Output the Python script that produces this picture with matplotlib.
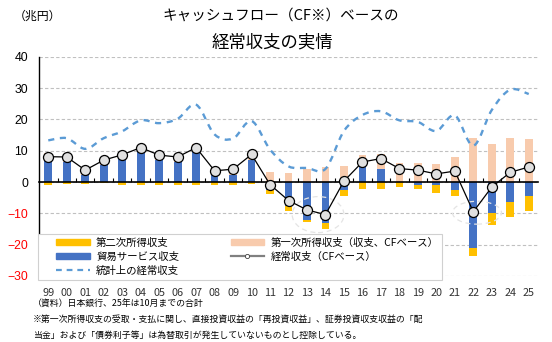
import numpy as np
import matplotlib.pyplot as plt
from matplotlib.path import Path
from matplotlib.patches import PathPatch, Ellipse, Patch
from matplotlib.lines import Line2D
from matplotlib.legend_handler import HandlerPatch, HandlerLine2D

plt.rcParams['font.family'] = ['Noto Sans CJK JP', 'DejaVu Sans']

# data (trillion yen)
years = ['99', '00', '01', '02', '03', '04', '05', '06', '07', '08', '09', '10', '11', '12',
         '13', '14', '15', '16', '17', '18', '19', '20', '21', '22', '23', '24', '25']
trade = [6.6, 6.5, 2.3, 5.5, 7.2, 9.5, 7.1, 6.5, 9.5, 2.1, 2.3, 6.9, -2.5, -7.8,
         -12.0, -13.1, -2.7, 4.7, 4.3, 0.1, -0.8, -0.9, -2.4, -21.1, -9.9, -6.3, -4.4]
primary_cf = [2.6, 2.1, 2.2, 1.9, 2.3, 2.3, 2.3, 2.6, 2.6, 2.6, 2.9, 2.6, 3.3, 3.0,
              4.3, 4.9, 5.2, 3.8, 4.8, 6.1, 6.2, 5.9, 8.1, 14.1, 12.2, 14.1, 13.8]
secondary = [-1.1, -0.6, -0.7, -0.4, -0.8, -0.8, -0.8, -1.1, -1.1, -1.1, -1.1, -0.7, -1.2, -1.3,
             -0.9, -1.9, -1.9, -2.1, -2.1, -1.7, -1.3, -2.5, -2.2, -2.4, -3.9, -4.8, -4.7]
current_cf = [8.1, 8.0, 3.8, 7.0, 8.7, 11.0, 8.6, 8.0, 11.0, 3.6, 4.1, 8.8, -0.8, -5.9,
              -8.9, -10.4, 0.3, 6.4, 7.5, 4.3, 3.8, 2.6, 3.5, -9.5, -1.6, 3.1, 4.8]
current_official = [13.3, 14.0, 10.6, 14.0, 16.2, 19.7, 18.8, 20.2, 24.7, 15.2, 13.9, 19.5, 10.4, 5.0,
                    4.5, 4.2, 16.3, 21.4, 22.6, 19.7, 19.2, 16.3, 21.3, 11.6, 23.0, 29.5, 28.1]

C_BLUE = '#4472C4'
C_YEL = '#FFC000'
C_PEACH = '#F8CBAD'
C_DASH = '#5B9BD5'

x = np.arange(len(years))
trade_a = np.array(trade)
pos_base = np.clip(trade_a, 0, None)
neg_base = np.clip(trade_a, None, 0)

fig = plt.figure(figsize=(5.52, 3.42), dpi=100)
ax = fig.add_axes([0.0707, 0.193, 0.9039, 0.641])

w = 0.42
ax.bar(x, trade, width=w, color=C_BLUE, zorder=2)
ax.bar(x, primary_cf, width=w, bottom=pos_base, color=C_PEACH, zorder=2)
ax.bar(x, secondary, width=w, bottom=neg_base, color=C_YEL, zorder=2)

# smoothed dashed line (bezier through the yearly points)
pts = np.column_stack([x, current_official]).astype(float)
verts = [pts[0]]
codes = [Path.MOVETO]
n = len(pts)
for i in range(n - 1):
    p0 = pts[max(i - 1, 0)]
    p1 = pts[i]
    p2 = pts[i + 1]
    p3 = pts[min(i + 2, n - 1)]
    verts += [p1 + (p2 - p0) / 6, p2 - (p3 - p1) / 6, p2]
    codes += [Path.CURVE4] * 3
ax.add_patch(PathPatch(Path(verts, codes), fill=False, edgecolor=C_DASH, lw=1.7,
                       ls=(0, (2.6, 2.4)), zorder=4))

# faint highlight rings
for cx, cy, ew, eh in [(14.6, -10.4, 2.8, 11.5), (23.2, -9.8, 2.65, 7.3)]:
    ax.add_patch(Ellipse((cx, cy), ew, eh, fill=False, edgecolor='#e4e4e4', lw=0.9,
                         ls=(0, (4, 3)), zorder=3))

ax.plot(x, current_cf, color='black', lw=0.9, marker='o', markersize=7.2,
        markerfacecolor='#E0E0E0', markeredgecolor='black', markeredgewidth=0.9, zorder=5)

ax.set_xlim(-0.5, len(years) - 0.5)
ax.set_ylim(-30, 40)
ax.set_yticks(range(-30, 41, 10))
ax.set_yticklabels([str(v).replace('-', '\u2212') for v in range(-30, 41, 10)],
                   family=['Liberation Sans', 'DejaVu Sans'], fontsize=8.8)
for lab, v in zip(ax.get_yticklabels(), range(-30, 41, 10)):
    lab.set_color('red' if v < 0 else 'black')
ax.tick_params(axis='y', length=0, pad=8)
ax.yaxis.grid(True, ls=(0, (3, 2)), color='#c0c0c0', lw=0.8)
ax.set_axisbelow(True)

for s in ['top', 'right']:
    ax.spines[s].set_visible(False)
ax.spines['left'].set_linewidth(1.0)
ax.spines['bottom'].set_position(('data', 0))
ax.spines['bottom'].set_linewidth(1.2)
ax.spines['bottom'].set_zorder(3)
ax.set_xticks(np.arange(len(years) - 1) + 0.5)
ax.tick_params(axis='x', direction='in', length=3, width=0.8, labelbottom=False)

sec = ax.secondary_xaxis('bottom')
sec.set_xticks(x, labels=years)
sec.tick_params(length=0, pad=9, labelsize=7.8, labelcolor='#333333')
for s in sec.spines.values():
    s.set_visible(False)

handles = [Patch(color=C_YEL), Patch(color=C_BLUE),
           Line2D([], [], color=C_DASH, lw=1.6, ls=(0, (2.6, 2.2))),
           Patch(color=C_PEACH),
           Line2D([], [], color='#808080', lw=1.6, marker='o', markersize=3,
                  markerfacecolor='white', markeredgecolor='#404040', markeredgewidth=0.6)]
labels = ['第二次所得収支', '貿易サービス収支', '統計上の経常収支',
          '第一次所得収支（収支、CFベース）', '経常収支（CFベース）']
leg = ax.legend(handles, labels, ncol=2, loc='lower left',
                bbox_to_anchor=(-0.012, -0.04, 0.83, 0.2), mode='expand',
                fontsize=7.5, frameon=True, fancybox=False, framealpha=1,
                edgecolor='#d0d0d0', handlelength=4.6, handleheight=0.55,
                labelspacing=0.38, borderpad=0.35, handletextpad=0.6,
                handler_map={Patch: HandlerPatch(xpad=1.4), Line2D: HandlerLine2D(xpad=1.4)})
leg.get_frame().set_linewidth(0.8)
leg.set_zorder(6)

fig.text(0.509, 0.953, 'キャッシュフロー（CF※）ベースの', ha='center', va='center',
         fontsize=10.5)
fig.text(0.493, 0.877, '経常収支の実情', ha='center', va='center', fontsize=12.5)
fig.text(0.025, 0.953, '（兆円）', ha='left', va='center', fontsize=8.6)

notes = ['（資料）日本銀行、25年は10月までの合計',
         '※第一次所得収支の受取・支払に関し、直接投資収益の「再投資収益」、証券投資収支収益の「配',
         '当金」および「債券利子等」は為替取引が発生していないものとし控除している。']
for i, t in enumerate(notes):
    fig.text(0.06, 0.11 - i * 0.045, t, ha='left', va='center', fontsize=6.4)

fig.savefig('out.png', dpi=100)
